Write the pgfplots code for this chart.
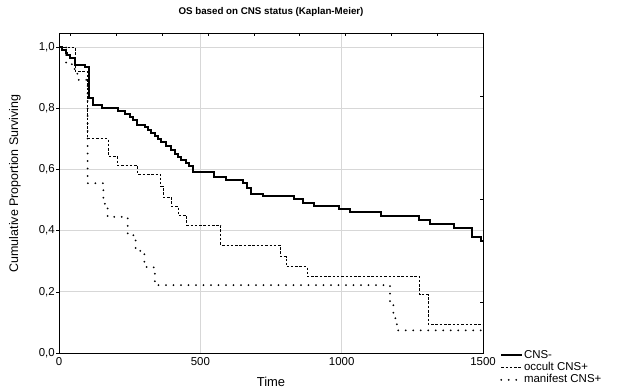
\documentclass[border=0pt]{standalone}
\usepackage{fontspec}
\setmainfont{Liberation Sans}
\usepackage{pgfplots}
\pgfplotsset{compat=1.18}
\definecolor{gridgray}{RGB}{215,215,215}
\begin{document}
\begin{tikzpicture}
\path[use as bounding box] (0,0) rectangle (622bp,390bp);
\begin{axis}[
  at={(59bp,37bp)}, anchor=south west,
  width=424bp, height=320bp, scale only axis,
  xmin=0, xmax=1500, ymin=0, ymax=1.046,
  xtick={0,500,1000,1500}, ytick={0,0.2,0.4,0.6,0.8,1.0},
  grid=major, major grid style={gridgray, line width=0.9bp},
  axis line style={black, line width=0.9bp},
  xtick style={draw=none},
  ytick pos=left, tick align=outside, major tick length=2.5bp,
  ytick style={black, line width=0.6bp},
  /pgf/number format/assume math mode=true,
  /pgf/number format/set thousands separator={},
  yticklabel style={/pgf/number format/.cd, fixed, fixed zerofill, precision=1, use comma},
  tick label style={font=\fontsize{11.5}{13}\selectfont, inner sep=1.5bp},
  title={\textbf{OS based on CNS status (Kaplan-Meier)}},
  title style={at={(axis description cs:0.5,1)}, anchor=center, yshift=15bp, font=\fontsize{9.8}{11}\selectfont},
  xlabel={Time},
  xlabel style={at={(axis description cs:0.5,-0.089)}, anchor=center, font=\fontsize{13}{14}\selectfont},
  ylabel={Cumulative Proportion Surviving},
  ylabel style={at={(axis description cs:-0.104,0.53)}, anchor=center, font=\fontsize{12.5}{14}\selectfont},
  legend image code/.code={\draw[#1] (0bp,0bp) -- (21bp,0bp);},
  legend style={draw=none, fill=none, at={(1,0)}, anchor=north west, xshift=17bp, yshift=4bp,
    font=\fontsize{11.5}{12}\selectfont, row sep=0pt, inner sep=0pt,
    nodes={inner sep=0.8bp, text height=8.3bp, text depth=2.4bp}},
  legend cell align=left,
]
\addplot[const plot, black, line width=2bp] coordinates {
(0,1.0) (12,0.99) (23,0.98) (30,0.975) (38,0.965) (58,0.942) (93,0.935) (107,0.832)
(120,0.81) (152,0.80) (210,0.79) (234,0.78) (251,0.77) (263,0.76) (275,0.745) (304,0.74)
(315,0.73) (327,0.72) (339,0.71) (350,0.70) (362,0.69) (380,0.675) (397,0.665) (409,0.65)
(421,0.64) (432,0.63) (450,0.62) (461,0.61) (473,0.592) (548,0.575) (592,0.564) (652,0.555)
(665,0.54) (678,0.52) (720,0.512) (832,0.502) (862,0.491) (903,0.482) (990,0.471) (1030,0.46)
(1140,0.447) (1272,0.434) (1312,0.423) (1399,0.408) (1462,0.379) (1492,0.365) (1500,0.365)
};
\addlegendentry{CNS-}
\addplot[const plot, black, line width=0.8bp, dash pattern=on 2.5bp off 1.8bp] coordinates {
(0,1.0) (57,0.922) (100,0.70) (175,0.643) (207,0.613) (278,0.585) (360,0.545) (368,0.51)
(397,0.48) (421,0.45) (452,0.418) (572,0.353) (783,0.315) (803,0.282) (878,0.25)
(1276,0.19) (1306,0.094) (1500,0.094)
};
\addlegendentry{occult CNS+}
\addplot[const plot, black, line width=2bp, line cap=round, dash pattern=on 0bp off 7.5bp] coordinates {
(0,1.0) (25,0.944) (55,0.92) (65,0.893) (101,0.555) (157,0.50) (162,0.48) (172,0.445)
(243,0.39) (263,0.38) (271,0.334) (302,0.29) (310,0.28) (339,0.222) (1171,0.167)
(1183,0.13) (1190,0.107) (1195,0.074) (1500,0.074)
};
\addlegendentry{manifest CNS+}
\end{axis}
\begin{axis}[
  at={(59bp,37bp)}, anchor=south west,
  width=424bp, height=320bp, scale only axis,
  xmin=0, xmax=1500, ymin=0, ymax=1.046,
  axis x line*=top, axis y line*=right,
  axis line style={draw=none},
  xtick={42,204,366,528,690,852,1014,1176,1338},
  ytick={0.166,0.502,0.838},
  xticklabels={}, yticklabels={},
  tick align=inside, major tick length=3bp,
  tick style={black, line width=0.8bp},
]
\end{axis}
\end{tikzpicture}
\end{document}
